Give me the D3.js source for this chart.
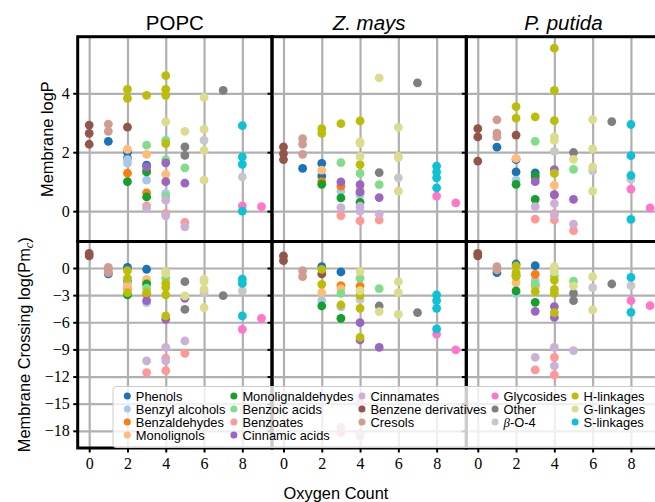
<!DOCTYPE html>
<html>
<head>
<meta charset="utf-8">
<script src="https://cdn.jsdelivr.net/npm/d3@7"></script>
<style>
  body { margin: 0; background: #fff; }
  svg { display: block; }
</style>
</head>
<body>
<script>
// categories, in drawing / legend order
const catCodes = ["Ph","BA","Bz","ML","MA","BAc","Bt","CA","Cn","BD","Cr","Gl","Ot","B4","H","G","S"];
const catNames = ["Phenols","Benzyl alcohols","Benzaldehydes","Monolignols","Monolignaldehydes",
  "Benzoic acids","Benzoates","Cinnamic acids","Cinnamates","Benzene derivatives","Cresols",
  "Glycosides","Other","β-O-4","H-linkages","G-linkages","S-linkages"];
const catColors = ["#1a72b9","#a8c8ea","#ff7d0a","#ffbb78","#14a02a","#80dd8a","#ff9896","#9b66c2",
  "#c9b1d8","#92554a","#cf9c92","#ff77c8","#7f7f7f","#c7c7c7","#bcbd08","#dcdc8d","#0cc2d4"];

const panelTitles = ["POPC", "Z. mays", "P. putida"];
const xTicks = [0, 2, 4, 6, 8];
const logPTicks = [0, 2, 4];
const pmTicks = [0, -3, -6, -9, -12, -15, -18];

// [category, oxygen count, value]
const popcLogP = [
  ["Ph",1,2.37],["Ph",2,2.0],["Ph",2,1.8],["Ph",3,1.56],
  ["BA",2,1.75],["BA",2,1.63],["BA",3,1.05],["BA",4,0.6],
  ["Bz",2,1.29],["Bz",3,1.38],["Bz",3,0.62],
  ["ML",2,2.1],["ML",3,1.93],["ML",4,1.25],
  ["MA",2,1.0],["MA",3,1.33],["MA",3,0.48],
  ["BAc",3,2.24],["BAc",4,2.4],["BAc",4,1.75],["BAc",4,0.5],["BAc",5,1.47],
  ["Bt",3,0.18],["Bt",4,-0.08],["Bt",5,-0.38],
  ["CA",3,1.5],["CA",4,1.64],["CA",4,1.0],["CA",5,0.95],
  ["Cn",3,0.09],["Cn",4,0.37],["Cn",4,-0.16],["Cn",5,-0.53],
  ["BD",0,2.92],["BD",0,2.64],["BD",0,2.27],["BD",2,2.85],
  ["Cr",1,2.95],["Cr",1,2.71],
  ["Gl",8,0.18],["Gl",9,0.15],
  ["Ot",5,2.18],["Ot",5,1.89],["Ot",7,4.1],
  ["B4",6,2.4],["B4",8,1.16],
  ["H",2,4.13],["H",2,3.83],["H",3,3.93],["H",4,4.6],["H",4,4.13],["H",4,3.93],["H",4,2.29],
  ["G",4,3.03],["G",5,2.71],["G",6,3.86],["G",6,2.78],["G",6,2.06],["G",6,1.05],
  ["S",8,2.9],["S",8,1.84],["S",8,1.59],["S",8,0.0]
];
const zmaysLogP = [
  ["Ph",1,1.45],["Ph",2,1.62],["Ph",2,1.19],
  ["BA",3,0.68],["BA",4,0.55],
  ["Bz",2,1.0],["Bz",3,0.85],["Bz",4,0.65],
  ["ML",2,1.39],["ML",4,0.75],
  ["MA",2,0.91],["MA",3,0.45],["MA",4,0.3],
  ["BAc",3,1.65],["BAc",4,1.28],["BAc",5,0.9],
  ["Bt",3,-0.15],["Bt",4,-0.33],["Bt",5,-0.3],
  ["CA",3,0.99],["CA",4,0.9],["CA",4,0.65],["CA",5,0.46],
  ["Cn",3,0.12],["Cn",4,0.17],["Cn",4,0.0],["Cn",5,-0.1],
  ["BD",0,2.18],["BD",0,1.95],["BD",0,1.75],
  ["Cr",1,2.46],["Cr",1,2.27],["Cr",1,1.93],
  ["Gl",8,0.51],["Gl",9,0.28],
  ["Ot",5,1.31],["Ot",7,4.35],
  ["B4",6,1.13],
  ["H",2,2.8],["H",2,2.64],["H",3,2.97],["H",4,3.06],["H",4,1.58],
  ["G",4,2.35],["G",4,2.3],["G",4,1.86],["G",5,4.52],["G",6,2.84],["G",6,1.86],["G",6,1.82],["G",6,0.68],
  ["S",8,1.53],["S",8,1.33],["S",8,1.13],["S",8,0.79]
];
const putidaLogP = [
  ["Ph",1,2.17],["Ph",2,1.75],["Ph",2,1.33],["Ph",3,1.3],
  ["BA",2,1.05],["BA",3,1.1],
  ["Bz",3,1.14],["Bz",4,0.55],
  ["ML",2,1.79],["ML",4,0.88],
  ["MA",2,0.91],["MA",3,1.2],["MA",3,0.4],
  ["BAc",3,2.37],["BAc",5,1.42],
  ["Bt",3,-0.27],["Bt",4,-0.08],["Bt",4,-0.3],["Bt",5,-0.66],
  ["CA",3,1.0],["CA",4,1.41],["CA",4,0.56],["CA",5,0.4],
  ["Cn",3,0.15],["Cn",4,0.26],["Cn",4,-0.14],["Cn",5,-0.44],
  ["BD",0,2.8],["BD",0,2.52],["BD",0,1.7],["BD",2,2.58],
  ["Cr",1,3.1],["Cr",1,2.65],["Cr",1,2.52],
  ["Gl",8,0.75],["Gl",9,0.11],
  ["Ot",5,1.99],["Ot",7,3.04],
  ["B4",4,2.03],["B4",6,1.37],["B4",8,1.08],
  ["H",2,3.55],["H",2,3.16],["H",3,3.2],["H",4,5.53],["H",4,4.1],["H",4,3.07],["H",4,1.28],
  ["G",4,2.52],["G",4,2.4],["G",5,1.76],["G",6,3.11],["G",6,2.11],["G",6,1.5],["G",6,0.68],
  ["S",8,2.94],["S",8,1.88],["S",8,1.21],["S",8,-0.28]
];
const popcPm = [
  ["Ph",1,-0.66],["Ph",2,0.08],["Ph",2,-1.51],["Ph",3,-0.14],
  ["BA",2,-1.7],["BA",3,-3.83],
  ["Bz",2,-2.24],["Bz",3,-1.51],["Bz",3,-2.9],
  ["ML",2,-2.06],["ML",3,-1.25],
  ["MA",2,-2.98],["MA",3,-1.77],
  ["BAc",3,-2.24],["BAc",4,-1.14],
  ["Bt",3,-11.56],["Bt",4,-9.98],["Bt",4,-11.35],["Bt",5,-9.43],
  ["CA",3,-3.61],["CA",4,-5.67],["CA",5,-3.35],
  ["Cn",3,-10.28],["Cn",4,-8.77],["Cn",4,-10.28],["Cn",5,-8.07],
  ["BD",0,1.62],["BD",0,1.33],
  ["Cr",1,0.08],["Cr",1,-0.22],["Cr",1,-0.52],
  ["Gl",8,-6.78],["Gl",9,-5.56],
  ["Ot",5,-1.51],["Ot",5,-4.57],["Ot",7,-3.06],
  ["B4",6,-2.72],["B4",8,-2.54],
  ["H",2,-0.3],["H",2,-1.14],["H",2,-2.72],["H",3,-2.72],["H",4,-1.69],["H",4,-2.14],["H",4,-2.98],["H",4,-5.3],
  ["G",4,-0.4],["G",4,-0.59],["G",5,-3.09],["G",6,-1.25],["G",6,-1.51],["G",6,-2.36],["G",6,-4.38],
  ["S",8,-1.22],["S",8,-1.7],["S",8,-5.3]
];
const zmaysPm = [
  ["Ph",2,0.15],["Ph",3,-0.44],
  ["BA",2,-3.61],["BA",3,-4.3],
  ["Bz",3,-1.95],["Bz",4,-1.99],
  ["ML",2,-2.72],["ML",3,-2.3],
  ["MA",2,-4.2],["MA",3,-5.56],
  ["BAc",3,-2.8],["BAc",4,-1.14],["BAc",5,-2.28],
  ["Bt",3,-18.2],["Bt",4,-14.9],["Bt",4,-18.3],["Bt",5,-16.0],
  ["CA",4,-6.04],["CA",4,-7.96],["CA",5,-8.77],
  ["Cn",3,-17.6],["Cn",4,-15.2],["Cn",4,-18.6],
  ["BD",0,1.33],["BD",0,0.81],["BD",2,-0.66],
  ["Cr",1,-0.3],["Cr",1,-0.96],
  ["Gl",8,-7.3],["Gl",9,-9.06],
  ["Ot",5,-4.2],["Ot",7,-4.93],
  ["B4",4,-3.5],
  ["H",2,-0.15],["H",2,-1.8],["H",3,-4.09],["H",4,-3.02],["H",4,-4.46],["H",4,-7.66],
  ["G",4,-0.4],["G",4,-2.5],["G",5,-4.82],["G",6,-1.51],["G",6,-2.72],["G",6,-5.12],
  ["S",8,-2.98],["S",8,-3.6],["S",8,-4.46],["S",8,-6.74]
];
const putidaPm = [
  ["Ph",1,-0.52],["Ph",2,0.44],["Ph",3,0.26],
  ["BA",2,-2.87],["BA",3,-1.4],
  ["Bz",3,-0.7],["Bz",3,-2.0],
  ["ML",2,-1.62],["ML",3,-1.9],
  ["MA",2,-2.54],["MA",3,-3.79],
  ["BAc",3,-1.77],["BAc",4,-0.9],["BAc",5,-1.44],
  ["Bt",3,-11.27],["Bt",4,-9.87],["Bt",4,-11.82],
  ["CA",3,-4.79],["CA",4,-4.27],["CA",4,-5.45],
  ["Cn",3,-9.87],["Cn",4,-8.77],["Cn",4,-10.83],["Cn",5,-9.13],
  ["BD",0,1.62],["BD",0,1.33],["BD",2,-0.8],
  ["Cr",1,0.15],["Cr",1,-0.22],
  ["Gl",8,-3.61],["Gl",9,-4.16],
  ["Ot",5,-2.8],["Ot",5,-3.61],["Ot",7,-1.77],
  ["B4",6,-2.17],["B4",8,-1.95],
  ["H",2,0.22],["H",2,-0.5],["H",2,-0.96],["H",3,-2.61],["H",4,-1.33],["H",4,-2.36],["H",4,-2.8],["H",4,-4.93],
  ["G",4,0.15],["G",4,-0.4],["G",5,-1.99],["G",6,-0.96],["G",6,-4.64],
  ["S",8,-1.03],["S",8,-4.9]
];

const topData = [popcLogP, zmaysLogP, putidaLogP];
const botData = [popcPm, zmaysPm, putidaPm];

// layout
const width = 655, height = 502;
const left = 77.7, panelW = 194.3;
const yTopEdge = 36.7, yMid = 241.5, yBottom = 448;
const sans = "'Liberation Sans', Arial, sans-serif";
const serif = "'Liberation Serif', 'Times New Roman', serif";

const color = d3.scaleOrdinal().domain(catCodes).range(catColors);

const svg = d3.select("body").append("svg")
  .attr("width", width)
  .attr("height", height)
  .style("font-family", sans);

const yTop = d3.scaleLinear().domain([-1.03, 5.92]).range([yMid, yTopEdge]);
const yBot = d3.scaleLinear().domain([-19.9, 2.93]).range([yBottom, yMid]);

const rows = [
  {y: yTop, data: topData, ticks: logPTicks, fmt: d => d},
  {y: yBot, data: botData, ticks: pmTicks, fmt: d => d < 0 ? "\u2212" + Math.abs(d) : d}
];

panelTitles.forEach((title, p) => {
  const x0 = left + p * panelW;
  const x = d3.scaleLinear().domain([-0.6, 9.55]).range([x0, x0 + panelW]);

  rows.forEach((row, r) => {
    const [yb, yt] = row.y.range();
    const g = svg.append("g");

    const clipId = `clip-${p}-${r}`;
    g.append("clipPath").attr("id", clipId)
      .append("rect").attr("x", x0).attr("y", yt).attr("width", panelW).attr("height", yb - yt);

    // grid
    g.append("g").attr("class", "grid")
      .attr("transform", `translate(0,${yb})`)
      .call(d3.axisBottom(x).tickValues(xTicks).tickSize(-(yb - yt)).tickFormat(""));
    g.append("g").attr("class", "grid")
      .attr("transform", `translate(${x0},0)`)
      .call(d3.axisLeft(row.y).tickValues(row.ticks).tickSize(-panelW).tickFormat(""));
    g.selectAll(".grid .domain").remove();
    g.selectAll(".grid line").attr("stroke", "#b0b0b0").attr("stroke-width", 2.2);

    // points
    const pts = g.append("g").attr("clip-path", `url(#${clipId})`);
    catCodes.forEach(c => {
      pts.selectAll(null)
        .data(row.data[p].filter(d => d[0] === c))
        .join("circle")
        .attr("cx", d => x(d[1]))
        .attr("cy", d => row.y(d[2]))
        .attr("r", 4.4)
        .attr("fill", color(c));
    });

    // y ticks
    const ya = g.append("g")
      .attr("transform", `translate(${x0},0)`)
      .call(d3.axisLeft(row.y).tickValues(row.ticks).tickSize(4.5).tickPadding(3.5)
        .tickFormat(p === 0 ? row.fmt : ""));
    ya.select(".domain").remove();
    ya.selectAll("line").attr("stroke", "#000").attr("stroke-width", 2);
    ya.selectAll("text").style("font-family", serif).style("font-size", "16px").attr("fill", "#000");

    if (r === 1) {
      const xa = g.append("g")
        .attr("transform", `translate(0,${yb})`)
        .call(d3.axisBottom(x).tickValues(xTicks).tickSize(4.5).tickPadding(5.5));
      xa.select(".domain").remove();
      xa.selectAll("line").attr("stroke", "#000").attr("stroke-width", 2);
      xa.selectAll("text").style("font-family", serif).style("font-size", "16px").attr("fill", "#000");
    }

    // frame
    g.append("rect")
      .attr("x", x0).attr("y", yt).attr("width", panelW).attr("height", yb - yt)
      .attr("fill", "none").attr("stroke", "#000").attr("stroke-width", 3);
  });

  svg.append("text")
    .attr("x", x0 + panelW / 2)
    .attr("y", 29.5)
    .attr("text-anchor", "middle")
    .attr("font-size", 20.5)
    .attr("font-style", p === 0 ? "normal" : "italic")
    .text(title);
});

// axis labels
svg.append("text")
  .attr("transform", `translate(53,${(yTopEdge + yMid) / 2}) rotate(-90)`)
  .attr("text-anchor", "middle")
  .attr("font-size", 16.4)
  .text("Membrane logP");

const pmLabel = svg.append("text")
  .attr("transform", `translate(29.5,${(yMid + yBottom) / 2}) rotate(-90)`)
  .attr("text-anchor", "middle")
  .attr("font-size", 16.4);
pmLabel.append("tspan").text("Membrane Crossing log(Pm");
pmLabel.append("tspan").style("font-family", serif).attr("font-style", "italic")
  .attr("font-size", 12).attr("dy", 3.5).text("c");
pmLabel.append("tspan").attr("dy", -3.5).text(")");

svg.append("text")
  .attr("x", 336)
  .attr("y", 499)
  .attr("text-anchor", "middle")
  .attr("font-size", 16.4)
  .text("Oxygen Count");

// legend (5 columns, filled column by column)
const legendCols = [[0,1,2,3],[4,5,6,7],[8,9,10],[11,12,13],[14,15,16]];
const rowY = [396, 409, 422, 435];
const legend = svg.append("g");
legend.append("rect")
  .attr("x", 113).attr("y", 386.5).attr("width", 560).attr("height", 61)
  .attr("rx", 3)
  .attr("fill", "#fff").attr("fill-opacity", 0.8)
  .attr("stroke", "#cccccc").attr("stroke-width", 1);

let colX = 127.3;
legendCols.forEach(col => {
  let maxW = 0;
  col.forEach((ci, j) => {
    legend.append("circle")
      .attr("cx", colX).attr("cy", rowY[j]).attr("r", 3.5)
      .attr("fill", catColors[ci]);
    const t = legend.append("text")
      .attr("x", colX + 8.5).attr("y", rowY[j]).attr("dy", "0.36em")
      .attr("font-size", 12.9);
    if (catCodes[ci] === "B4") {
      t.append("tspan").style("font-family", serif).attr("font-style", "italic").text("β");
      t.append("tspan").text("-O-4");
    } else {
      t.text(catNames[ci]);
    }
    maxW = Math.max(maxW, t.node().getComputedTextLength());
  });
  colX += 8.5 + maxW + 8.5;
});
</script>
</body>
</html>
